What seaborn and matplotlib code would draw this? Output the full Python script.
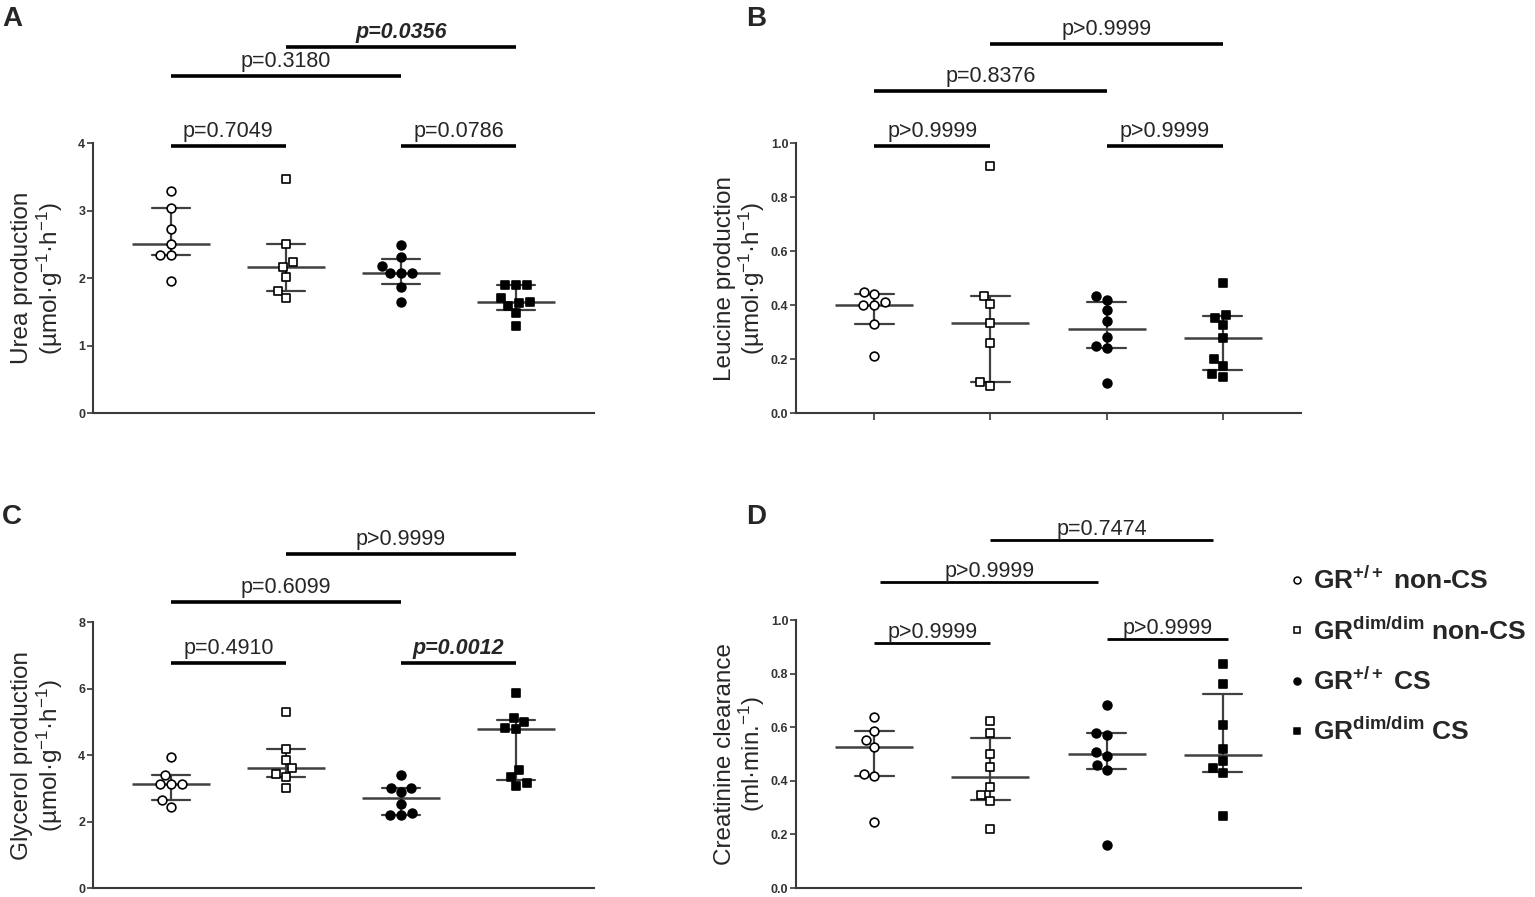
import numpy as np
import pandas as pd
import matplotlib
matplotlib.use("Agg")
import matplotlib.pyplot as plt
from matplotlib.lines import Line2D
from matplotlib import transforms
import seaborn as sns

# ---------------- data ----------------
groups = ["GR+/+ non-CS", "GRdim/dim non-CS", "GR+/+ CS", "GRdim/dim CS"]

urea_wt_noncs = [3.29, 3.03, 2.73, 2.51, 2.34, 2.34, 1.95]
urea_dim_noncs = [3.46, 2.50, 2.23, 2.17, 2.02, 1.81, 1.70]
urea_wt_cs = [2.49, 2.31, 2.18, 2.08, 2.08, 2.07, 1.86, 1.65]
urea_dim_cs = [1.90, 1.90, 1.90, 1.70, 1.65, 1.63, 1.58, 1.48, 1.29]

leucine_wt_noncs = [0.45, 0.44, 0.41, 0.40, 0.40, 0.33, 0.21]
leucine_dim_noncs = [0.913, 0.433, 0.402, 0.332, 0.261, 0.113, 0.100]
leucine_wt_cs = [0.435, 0.42, 0.38, 0.34, 0.28, 0.25, 0.24, 0.11]
leucine_dim_cs = [0.48, 0.363, 0.353, 0.326, 0.279, 0.20, 0.175, 0.144, 0.133]

glycerol_wt_noncs = [3.95, 3.40, 3.13, 3.13, 3.13, 2.64, 2.44]
glycerol_dim_noncs = [5.29, 4.18, 3.86, 3.60, 3.44, 3.34, 3.02]
glycerol_wt_cs = [3.40, 3.00, 3.00, 2.89, 2.52, 2.25, 2.19, 2.19]
glycerol_dim_cs = [5.86, 5.12, 5.00, 4.80, 4.77, 3.55, 3.35, 3.15, 3.08]

creat_wt_noncs = [0.638, 0.585, 0.552, 0.527, 0.427, 0.418, 0.247]
creat_dim_noncs = [0.623, 0.578, 0.502, 0.451, 0.376, 0.346, 0.324, 0.222]
creat_wt_cs = [0.685, 0.580, 0.570, 0.508, 0.493, 0.458, 0.442, 0.162]
creat_dim_cs = [0.838, 0.763, 0.608, 0.520, 0.473, 0.450, 0.430, 0.269]

urea_ticks = [0, 1, 2, 3, 4]
leucine_ticks = [0.0, 0.2, 0.4, 0.6, 0.8, 1.0]
glycerol_ticks = [0, 2, 4, 6, 8]
creat_ticks = [0.0, 0.2, 0.4, 0.6, 0.8, 1.0]

# comparisons: (group i, group j, bar height, label, bold-italic)
urea_p = [(1, 3, 5.42, "p=0.0356", True), (0, 2, 4.99, "p=0.3180", False),
          (0, 1, 3.96, "p=0.7049", False), (2, 3, 3.96, "p=0.0786", False)]
leucine_p = [(1, 3, 1.367, "p>0.9999", False), (0, 2, 1.193, "p=0.8376", False),
             (0, 1, 0.989, "p>0.9999", False), (2, 3, 0.989, "p>0.9999", False)]
glycerol_p = [(1, 3, 10.05, "p>0.9999", False), (0, 2, 8.60, "p=0.6099", False),
              (0, 1, 6.77, "p=0.4910", False), (2, 3, 6.77, "p=0.0012", True)]
creat_p = [(1, 2.92, 1.30, "p=0.7474", False), (0.05, 1.93, 1.143, "p>0.9999", False),
           (0, 1, 0.917, "p>0.9999", False), (2, 3.05, 0.930, "p>0.9999", False)]

# ---------------- style ----------------
sns.set_style("white")
plt.rcParams["font.family"] = ["Liberation Sans", "DejaVu Sans"]
plt.rcParams["mathtext.fontset"] = "custom"
plt.rcParams["mathtext.rm"] = "Liberation Sans"
plt.rcParams["mathtext.bf"] = "Liberation Sans:bold"
plt.rcParams["mathtext.it"] = "Liberation Sans:italic"

W, H = 1535, 897
fig = plt.figure(figsize=(W / 100, H / 100), dpi=100)


def px_axes(left, right, bottom, top):
    return fig.add_axes([left / W, 1 - bottom / H, (right - left) / W, (bottom - top) / H])


markers = ["o", "s", "o", "s"]
faces = ["white", "white", "black", "black"]
axis_col = "#3a3a3a"


def iqr(v):
    return (np.percentile(v, 25, method="weibull"), np.percentile(v, 75, method="weibull"))


def panel(ax, series, ylim_top, ticks, ticklabels, ylabel, comps, letter, letter_xy,
          show_xticks=False, text_off=3, bar_lw=2.6):
    frames = []
    for g, vals in zip(groups, series):
        frames.append(pd.DataFrame({"group": g, "value": vals}))
    df = pd.concat(frames, ignore_index=True)

    # median + interquartile range
    sns.pointplot(data=df, x="group", y="value", order=groups, estimator="median",
                  errorbar=iqr, capsize=0.33, markers="_", markersize=56,
                  markeredgewidth=1.8, linestyle="none", color="#404040",
                  err_kws={"linewidth": 1.6}, ax=ax)
    # individual points
    for g, m, fc in zip(groups, markers, faces):
        sub = df[df["group"] == g]
        sns.swarmplot(data=sub, x="group", y="value", order=groups, marker=m,
                      color=fc, edgecolor="black", linewidth=1.2, size=6.3,
                      ax=ax, zorder=4)

    ax.set_xlim(-0.675, 3.675)
    ax.set_ylim(0, ylim_top)
    ax.set_yticks(ticks)
    ax.set_yticklabels(ticklabels, fontsize=9, fontweight="bold", color="#333333",
                       family=["Liberation Sans Narrow", "Liberation Sans"])
    for s in ["top", "right"]:
        ax.spines[s].set_visible(False)
    ax.spines["left"].set_bounds(0, ticks[-1])
    for s in ["left", "bottom"]:
        ax.spines[s].set_color(axis_col)
        ax.spines[s].set_linewidth(1.5)
    ax.tick_params(axis="y", direction="out", length=4, width=1.2, color=axis_col, pad=1.5, left=True)
    if show_xticks:
        ax.tick_params(axis="x", direction="out", length=5, width=1.2, color=axis_col, bottom=True)
    else:
        ax.tick_params(axis="x", length=0)
    ax.set_xticklabels([])
    ax.set_xlabel("")
    ax.set_ylabel("")

    trans = transforms.blended_transform_factory(ax.transAxes, ax.transData)
    ax.text(-0.11, ticks[-1] / 2, ylabel, transform=trans, rotation=90, ha="center",
            va="center", multialignment="center", fontsize=17.5, linespacing=1.05)

    for i, j, y, lab, bold in comps:
        ax.plot([i, j], [y, y], color="black", lw=bar_lw, clip_on=False, solid_capstyle="butt")
        ax.annotate(lab, xy=((i + j) / 2, y), xytext=(0, text_off), textcoords="offset points",
                    ha="center", va="bottom", fontsize=15.5,
                    fontweight="bold" if bold else "normal",
                    fontstyle="italic" if bold else "normal", annotation_clip=False)

    fig.text(letter_xy[0] / W, 1 - letter_xy[1] / H, letter, fontsize=20, fontweight="bold",
             ha="left", va="center")


axA = px_axes(93, 594, 413, 5)
axB = px_axes(796, 1301, 413, 5)
axC = px_axes(93, 594, 888, 480)
axD = px_axes(796, 1301, 888, 480)

sup = r"$^{\mathregular{-1}}$"

panel(axA, [urea_wt_noncs, urea_dim_noncs, urea_wt_cs, urea_dim_cs], 408 / 67.5,
      urea_ticks, [str(t) for t in urea_ticks],
      "Urea production\n(µmol·g" + sup + "·h" + sup + ")", urea_p, "A", (2, 19))
panel(axB, [leucine_wt_noncs, leucine_dim_noncs, leucine_wt_cs, leucine_dim_cs], 408 / 270,
      leucine_ticks, [f"{t:.1f}" for t in leucine_ticks],
      "Leucine production\n(µmol·g" + sup + "·h" + sup + ")", leucine_p, "B", (746, 19),
      show_xticks=True)
panel(axC, [glycerol_wt_noncs, glycerol_dim_noncs, glycerol_wt_cs, glycerol_dim_cs], 408 / 33.25,
      glycerol_ticks, [str(t) for t in glycerol_ticks],
      "Glycerol production\n(µmol·g" + sup + "·h" + sup + ")", glycerol_p, "C", (2, 517))
panel(axD, [creat_wt_noncs, creat_dim_noncs, creat_wt_cs, creat_dim_cs], 408 / 267.7,
      creat_ticks, [f"{t:.1f}" for t in creat_ticks],
      "Creatinine clearance\n(ml·min." + sup + ")", creat_p, "D", (746, 517),
      text_off=0, bar_lw=2.0)

# legend
handles = [Line2D([], [], marker=m, ls="none", mfc=fc, mec="black", ms=5, mew=1.1)
           for m, fc in zip(markers, faces)]
labels = [r"GR$^{\mathbf{+/+}}$ non-CS", r"GR$^{\mathbf{dim/dim}}$ non-CS",
          r"GR$^{\mathbf{+/+}}$ CS", r"GR$^{\mathbf{dim/dim}}$ CS"]
fig.legend(handles, labels, loc="upper left", bbox_to_anchor=(1276 / W, 1 - 554 / H),
           frameon=False, handlelength=0.6, handletextpad=0.3, labelspacing=0.88,
           borderpad=0, prop={"family": "Liberation Sans", "weight": "bold", "size": 19})

fig.savefig("out.png", dpi=100)
